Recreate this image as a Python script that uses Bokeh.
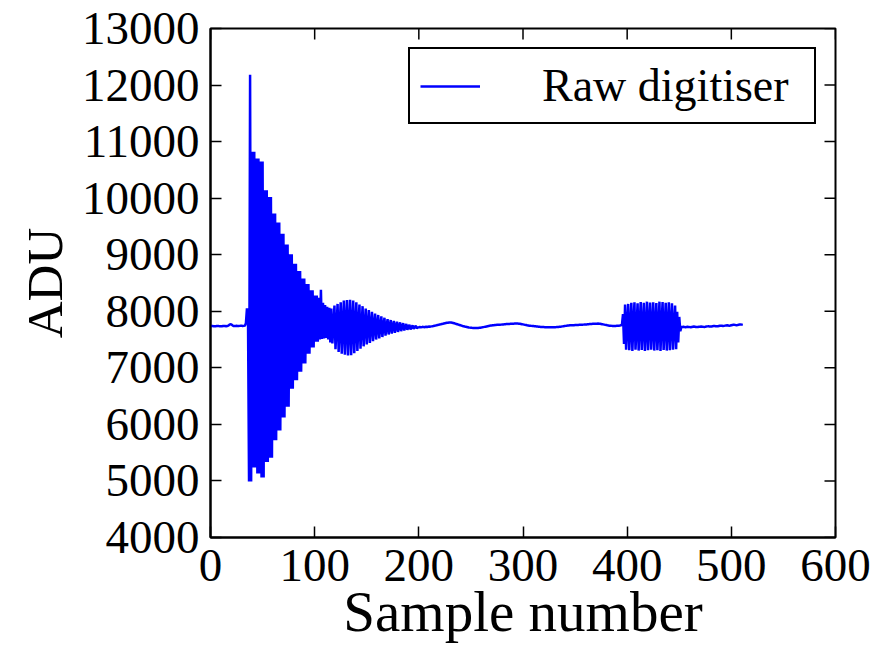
import math
from bokeh.plotting import figure
from bokeh.models import Range1d, FixedTicker
from bokeh.embed import file_html
from bokeh.resources import INLINE

# ---- data (ADU per sample) ----
pre_trigger = [7735, 7738, 7740, 7737, 7735, 7736, 7739, 7741, 7738, 7736,
               7735, 7737, 7740, 7742, 7739, 7736, 7738, 7745, 7760, 7772,
               7768, 7752, 7740, 7738, 7741, 7743, 7740, 7738, 7742, 7745,
               7743, 7740, 7742, 7746, 7790, 8050, 7900]

ring_fast = [4990, 12180, 4990,
             10820, 5240, 10820, 5240,
             10700, 5130, 10700, 5130,
             10650, 5060, 10650, 5060,
             10140, 5335, 10140, 5335,
             10020, 5410, 10020, 5410,
             9730, 5720, 9730, 5720,
             9570, 5890, 9570, 5890,
             9370, 6120, 9370, 6120,
             9180, 6310, 9180, 6310,
             9010, 6630, 9010, 6630,
             8840, 6780, 8840, 6780,
             8710, 6930, 8710, 6930,
             8580, 7075, 8580, 7075,
             8480, 7250, 8480, 7250,
             8370, 7360, 8370, 7360,
             8280, 7460, 8280, 7460,
             8240, 7500, 8380, 7510,
             8150, 7520, 8110, 7530,
             8080, 7500, 8060, 7450]

ring_slow = [8050, 7430, 7740, 8100, 7330, 7735, 8130, 7280, 7740,
             8160, 7250, 7730, 8190, 7230, 7740, 8200, 7220, 7735,
             8205, 7225, 7740, 8190, 7260, 7730, 8160, 7300, 7740,
             8120, 7340, 7735, 8090, 7380, 7740, 8050, 7415, 7730,
             8020, 7440, 7740, 7990, 7470, 7735, 7960, 7500, 7740,
             7935, 7520, 7730, 7910, 7545, 7740, 7885, 7570, 7735,
             7860, 7590, 7730, 7845, 7605, 7735, 7830, 7620, 7730,
             7815, 7635, 7728, 7805, 7648, 7730, 7790, 7660, 7725,
             7775, 7672, 7720, 7760, 7680, 7715, 7750, 7690, 7712,
             7745, 7700, 7715]

quiet = [7718, 7722, 7716, 7720, 7725, 7719, 7723, 7727, 7721, 7726, 7730, 7728, 7733,
         7736, 7740, 7745, 7748, 7752, 7757, 7761, 7766, 7770, 7775, 7779, 7784, 7788,
         7792, 7796, 7799, 7801, 7802, 7800, 7797, 7793, 7788, 7782, 7776, 7770, 7764,
         7758, 7752, 7746, 7740, 7735, 7730, 7726, 7722, 7718, 7714, 7711, 7709, 7707,
         7706, 7705, 7704, 7704, 7705, 7706, 7708, 7710, 7713, 7716, 7720, 7724, 7728,
         7732, 7736, 7740, 7744, 7747, 7750, 7753, 7755, 7757, 7759, 7760, 7761, 7762,
         7763, 7764, 7766, 7768, 7770, 7772, 7774, 7775, 7776, 7777, 7778, 7779, 7780,
         7781, 7782, 7782, 7783, 7782, 7781, 7779, 7776, 7772, 7768, 7764, 7760, 7756,
         7752, 7749, 7746, 7744, 7742, 7740, 7738, 7736, 7734, 7732, 7730, 7728, 7726,
         7724, 7722, 7721, 7720, 7719, 7718, 7717, 7717, 7716, 7716, 7716, 7717, 7717,
         7718, 7719, 7720, 7722, 7724, 7726, 7728, 7730, 7733, 7736, 7739, 7742, 7745,
         7747, 7749, 7751, 7752, 7753, 7754, 7755, 7756, 7757, 7758, 7759, 7760, 7761,
         7762, 7763, 7764, 7765, 7766, 7768, 7770, 7772, 7774, 7776, 7777, 7778, 7779,
         7780, 7781, 7781, 7782, 7781, 7779, 7776, 7772, 7768, 7764, 7760, 7756, 7752,
         7749, 7746, 7744, 7742, 7741, 7740, 7740, 7741, 7742, 7743, 7745, 7748, 7752]

burst = [7760, 7950, 7420, 8120, 7320, 7750,
         8130, 7310, 7700, 8150, 7300, 7780, 8160, 7320, 7720,
         8140, 7305, 7760, 8165, 7315, 7740, 8150, 7300, 7690,
         8170, 7310, 7790, 8155, 7320, 7730, 8160, 7305, 7750,
         8145, 7310, 7710, 8170, 7300, 7770, 8165, 7315, 7740,
         8150, 7305, 7720, 8160, 7310, 7760, 8140, 7320, 7730,
         8100, 7330, 7990, 7450, 7900, 7650, 7720]

tail = [7722, 7725, 7720, 7718, 7722, 7726, 7724, 7720, 7719, 7723,
        7727, 7729, 7726, 7722, 7720, 7722, 7725, 7728, 7730, 7728,
        7725, 7723, 7726, 7730, 7733, 7735, 7732, 7729, 7731, 7735,
        7738, 7740, 7737, 7734, 7736, 7740, 7744, 7746, 7743, 7740,
        7742, 7746, 7750, 7752, 7749, 7746, 7748, 7753, 7758, 7762,
        7760, 7756, 7754, 7757, 7761, 7765, 7768, 7764, 7760]

adu = pre_trigger + ring_fast + ring_slow + quiet + burst + tail
samples = list(range(len(adu)))

x_ticks = [0, 100, 200, 300, 400, 500, 600]
y_ticks = [4000, 5000, 6000, 7000, 8000, 9000, 10000, 11000, 12000, 13000]
x_min, x_max = 0, 600
y_min, y_max = 4000, 13000

FONT = "Liberation Serif"
TICK_LEN = 11

p = figure(width=874, height=645,
           x_range=Range1d(x_min, x_max), y_range=Range1d(y_min, y_max),
           output_backend="svg", toolbar_location=None,
           min_border_left=210, min_border_right=39,
           min_border_top=28, min_border_bottom=108)

p.line(samples, adu, line_color="#0000ff", line_width=2.5, legend_label="Raw digitiser")

# inward ticks on the top and right edges of the frame
p.ray(x=x_ticks, y=[y_max] * len(x_ticks), length=TICK_LEN, length_units="screen",
      angle=-math.pi / 2, line_color="black", line_width=1.5)
p.ray(x=[x_max] * len(y_ticks), y=y_ticks, length=TICK_LEN, length_units="screen",
      angle=math.pi, line_color="black", line_width=1.5)

p.xgrid.visible = False
p.ygrid.visible = False
p.outline_line_color = "black"
p.outline_line_width = 2
p.background_fill_color = "white"
p.border_fill_color = "white"

xax = p.below[0]
yax = p.left[0]
xax.axis_label = "Sample number"
yax.axis_label = "ADU"
xax.ticker = FixedTicker(ticks=x_ticks)
yax.ticker = FixedTicker(ticks=y_ticks)

for ax in [xax, yax]:
    ax.major_tick_in = TICK_LEN
    ax.major_tick_out = 0
    ax.minor_tick_in = 0
    ax.minor_tick_out = 0
    ax.major_tick_line_color = "black"
    ax.major_tick_line_width = 1.5
    ax.axis_line_color = "black"
    ax.axis_line_width = 2
    ax.major_label_text_font = FONT
    ax.major_label_text_color = "black"
    ax.major_label_text_font_size = "47px"
    ax.axis_label_text_font = FONT
    ax.axis_label_text_font_style = "normal"
    ax.axis_label_text_color = "black"

xax.major_label_standoff = 12
yax.major_label_standoff = 11
xax.axis_label_text_font_size = "57px"
yax.axis_label_text_font_size = "51px"
xax.axis_label_standoff = -4
yax.axis_label_standoff = 6

lg = p.legend[0]
lg.location = "top_right"
lg.margin = 19
lg.padding = 10
lg.glyph_width = 60
lg.glyph_height = 52
lg.label_height = 52
lg.label_width = 262
lg.label_standoff = 62
lg.label_text_font = FONT
lg.label_text_font_size = "46px"
lg.label_text_color = "black"
lg.border_line_color = "black"
lg.border_line_width = 2
lg.border_line_alpha = 1
lg.background_fill_color = "white"
lg.background_fill_alpha = 1

open("out.html", "w").write(file_html(p, INLINE))
